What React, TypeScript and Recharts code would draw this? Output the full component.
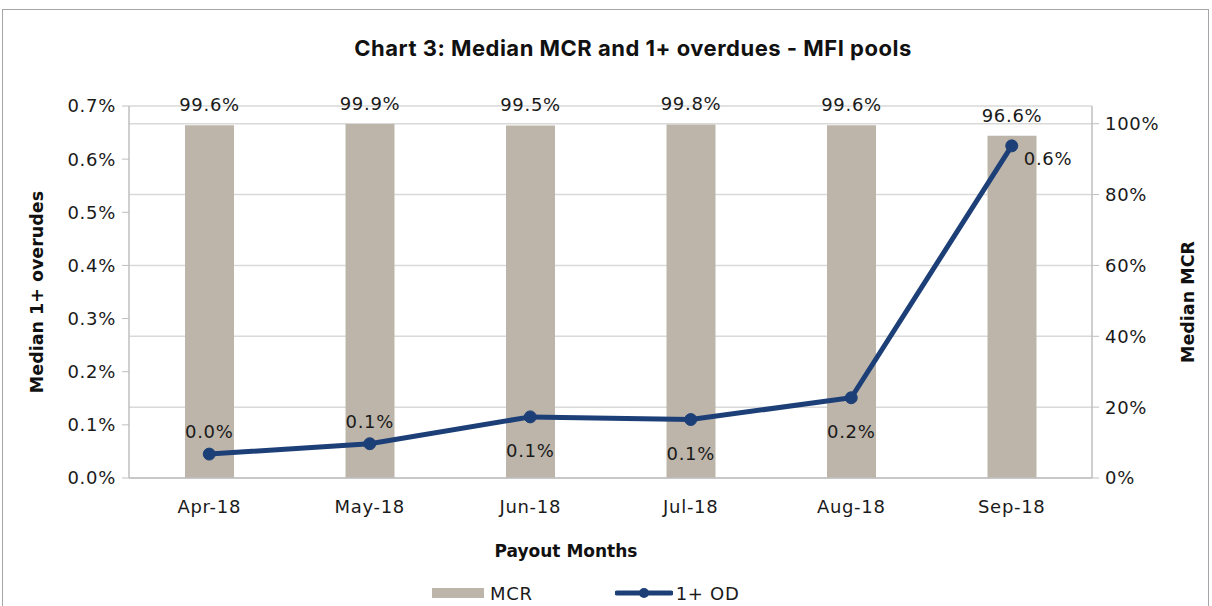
import React from "react";
import {
  ComposedChart,
  Bar,
  Line,
  XAxis,
  YAxis,
  CartesianGrid,
  LabelList,
  Legend,
} from "recharts";

const months = ["Apr-18", "May-18", "Jun-18", "Jul-18", "Aug-18", "Sep-18"];
const mcr = [0.996, 0.999, 0.995, 0.998, 0.996, 0.966];
const od = [0.00045, 0.000645, 0.00115, 0.0011, 0.00151, 0.00625];
const leftTicks = [0, 0.001, 0.002, 0.003, 0.004, 0.005, 0.006, 0.007];
const rightTicks = [0, 0.2, 0.4, 0.6, 0.8, 1.0];
const odLabelSide = ["top", "top", "bottom", "bottom", "bottom", "right"];

const data = months.map((m, i) => ({ month: m, mcr: mcr[i], od: od[i] }));

const FONT = "'DejaVu Sans', sans-serif";
const LS = 0.7;
const FS = 18;
const BAR = "#BDB5A9";
const LINE = "#1D3F78";
const AXIS = "#BFBFBF";

const pct1 = (v: number) => `${(v * 100).toFixed(1)}%`;

const OdLabel = (props: any) => {
  const { x, y, value, index } = props;
  const side = odLabelSide[index];
  let tx = x;
  let ty = y;
  let anchor: "middle" | "start" = "middle";
  if (side === "top") ty = y - 16;
  else if (side === "bottom") ty = y + 40;
  else {
    tx = x + 12;
    ty = y + 19;
    anchor = "start";
  }
  return (
    <text x={tx} y={ty} textAnchor={anchor} fontFamily={FONT} fontSize={FS} letterSpacing={LS} fill="#1a1a1a">
      {pct1(value)}
    </text>
  );
};

const McrLabel = (props: any) => {
  const { x, y, width, value } = props;
  return (
    <text x={x + width / 2} y={y - 14} textAnchor="middle" fontFamily={FONT} fontSize={FS} letterSpacing={LS} fill="#1a1a1a">
      {pct1(value)}
    </text>
  );
};

const renderLegend = () => (
  <div
    style={{
      height: 24,
      display: "flex",
      alignItems: "center",
      paddingLeft: 432,
      fontFamily: FONT,
      fontSize: FS,
      letterSpacing: LS,
      color: "#1a1a1a",
    }}
  >
    <svg width={52} height={12}>
      <rect x={0} y={1} width={52} height={10} fill={BAR} />
    </svg>
    <span style={{ marginLeft: 6 }}>MCR</span>
    <svg width={58} height={14} style={{ marginLeft: 82 }}>
      <line x1={2} y1={7} x2={56} y2={7} stroke={LINE} strokeWidth={5} strokeLinecap="round" />
      <circle cx={29} cy={7} r={5} fill={LINE} />
    </svg>
    <span style={{ marginLeft: 3 }}>1+ OD</span>
  </div>
);

export default function App() {
  return (
    <div
      style={{
        position: "absolute",
        left: 0,
        top: 0,
        width: 1212,
        height: 606,
        background: "#fff",
        overflow: "hidden",
      }}
    >
      <div
        style={{
          position: "absolute",
          left: 2,
          top: 9,
          width: 1207,
          height: 610,
          border: "1px solid #A6A6A6",
          boxSizing: "border-box",
        }}
      />
      <div
        style={{
          position: "absolute",
          left: 27,
          top: 35,
          width: 1212,
          textAlign: "center",
          fontFamily: "Inter, sans-serif",
          fontWeight: 700,
          fontSize: 22,
          letterSpacing: 0.5,
          color: "#111",
        }}
      >
        Chart 3: Median MCR and 1+ overdues - MFI pools
      </div>
      <div style={{ position: "absolute", left: 0, top: 0 }}>
        <ComposedChart
          width={1212}
          height={606}
          data={data}
          margin={{ top: 106, right: 0, left: 0, bottom: 74 }}
        >
          <CartesianGrid yAxisId="right" vertical={false} stroke="#D9D9D9" strokeWidth={1.5} />
          <XAxis
            xAxisId="ticks"
            type="number"
            domain={[0, 6]}
            ticks={[1, 2, 3, 4, 5]}
            height={0}
            axisLine={false}
            tick={false}
            tickLine={{ stroke: AXIS }}
            tickSize={8}
          />
          <XAxis
            dataKey="month"
            height={30}
            axisLine={{ stroke: AXIS, strokeWidth: 1.5 }}
            tickLine={false}
            tick={{ fontFamily: FONT, fontSize: FS, fill: "#1a1a1a", letterSpacing: LS }}
            tickMargin={16}
            label={(p: any) => {
              const vb = p.viewBox;
              return (
                <text
                  x={566}
                  y={vb.y + 79}
                  textAnchor="middle"
                  fontFamily={FONT}
                  fontWeight={700}
                  fontSize={17}
                  fill="#111"
                >
                  Payout Months
                </text>
              );
            }}
          />
          <YAxis
            yAxisId="left"
            orientation="left"
            width={129}
            domain={[0, 0.007]}
            ticks={leftTicks}
            tickFormatter={pct1}
            axisLine={{ stroke: AXIS, strokeWidth: 1.5 }}
            tickLine={{ stroke: AXIS }}
            tickSize={7}
            tickMargin={6}
            tick={{ fontFamily: FONT, fontSize: FS, fill: "#1a1a1a", letterSpacing: LS }}
            label={(p: any) => {
              const vb = p.viewBox;
              const cx = vb.x + 37;
              const cy = vb.y + vb.height / 2;
              return (
                <text
                  x={cx}
                  y={cy}
                  transform={`rotate(-90 ${cx} ${cy})`}
                  textAnchor="middle"
                  dominantBaseline="central"
                  fontFamily={FONT}
                  fontWeight={700}
                  fontSize={17.5}
                  fill="#111"
                >
                  Median 1+ overudes
                </text>
              );
            }}
          />
          <YAxis
            yAxisId="right"
            orientation="right"
            width={120}
            domain={[0, 1.05]}
            ticks={rightTicks}
            tickFormatter={(v: number) => `${Math.round(v * 100)}%`}
            axisLine={{ stroke: AXIS, strokeWidth: 1.5 }}
            tickLine={{ stroke: AXIS }}
            tickSize={7}
            tickMargin={6}
            tick={{ fontFamily: FONT, fontSize: FS, fill: "#1a1a1a", letterSpacing: LS }}
            label={(p: any) => {
              const vb = p.viewBox;
              const cx = vb.x + 96;
              const cy = vb.y + vb.height / 2 + 10;
              return (
                <text
                  x={cx}
                  y={cy}
                  transform={`rotate(-90 ${cx} ${cy})`}
                  textAnchor="middle"
                  dominantBaseline="central"
                  fontFamily={FONT}
                  fontWeight={700}
                  fontSize={17.5}
                  fill="#111"
                >
                  Median  MCR
                </text>
              );
            }}
          />
          <Legend verticalAlign="bottom" wrapperStyle={{ bottom: 1, left: 0, width: 1212 }} content={renderLegend} />
          <Bar
            yAxisId="right"
            dataKey="mcr"
            name="MCR"
            fill={BAR}
            barSize={49}
            isAnimationActive={false}
          >
            <LabelList dataKey="mcr" content={McrLabel} />
          </Bar>
          <Line
            yAxisId="left"
            dataKey="od"
            name="1+ OD"
            stroke={LINE}
            strokeWidth={5}
            dot={{ r: 6, fill: LINE, stroke: LINE, strokeWidth: 1 }}
            isAnimationActive={false}
          >
            <LabelList dataKey="od" content={OdLabel} />
          </Line>
        </ComposedChart>
      </div>
    </div>
  );
}
